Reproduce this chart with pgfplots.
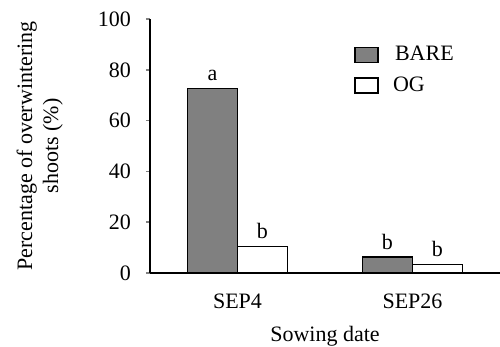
\documentclass[border=0pt]{standalone}
\usepackage{fontspec}
\setmainfont{Liberation Serif}
\usepackage{pgfplots}
\pgfplotsset{compat=1.18}
\begin{document}
\begin{tikzpicture}
\begin{axis}[
  name=ax,
  scale only axis,
  width=175pt, height=127pt,
  ybar=0pt, bar width=25pt,
  xmin=-0.5, xmax=1.5,
  ymin=0, ymax=100,
  ytick={0,20,...,100},
  xtick={0,1}, xticklabels={SEP4,SEP26},
  axis x line=bottom, axis y line=left,
  axis line style={-, line width=0.8pt},
  x tick style={draw=none},
  y tick style={line width=0.8pt},
  tick align=outside, major tick length=2pt,
  extra x ticks={0.5}, extra x tick labels={},
  extra x tick style={tick align=inside, major tick length=4pt, tick style={draw=black, line width=0.8pt}},
  xticklabel style={yshift=-5pt},
  yticklabel style={xshift=-4pt},
  /pgf/number format/assume math mode=true,
  font=\fontsize{11}{13}\selectfont,
  xlabel={Sowing date},
  xlabel style={yshift=0pt},
  ylabel={Percentage of overwintering\\shoots (\%)},
  ylabel style={align=center, at={(axis description cs:-0.315,0.5)}, anchor=center},
  nodes near coords,
  point meta=explicit symbolic,
  every node near coord/.append style={font=\fontsize{11}{13}\selectfont, yshift=0pt},
  legend style={at={(rel axis cs:0.583,0.91)}, anchor=north west, draw=none, fill=none,
    row sep=2.5pt, font=\fontsize{11}{13}\selectfont, inner sep=0pt},
  legend cell align=left,
  legend image code/.code={\draw[#1, line width=0.8pt] (0pt,-3.75pt) rectangle (11.5pt,3.75pt);},
]
\addplot[draw=black, line width=0.8pt, fill=gray] coordinates {(0,72.7)[a] (1,6.4)[b]};
\addplot[draw=black, line width=0.8pt, fill=white] coordinates {(0,10.4)[b] (1,3.4)[b]};
\legend{\hspace{6pt}BARE, \hspace{5pt}OG}
\end{axis}
\pgfresetboundingbox
\path[use as bounding box] ([xshift=-75pt,yshift=-37pt]ax.south west) rectangle ([xshift=175pt,yshift=136.5pt]ax.south west);
\end{tikzpicture}
\end{document}
